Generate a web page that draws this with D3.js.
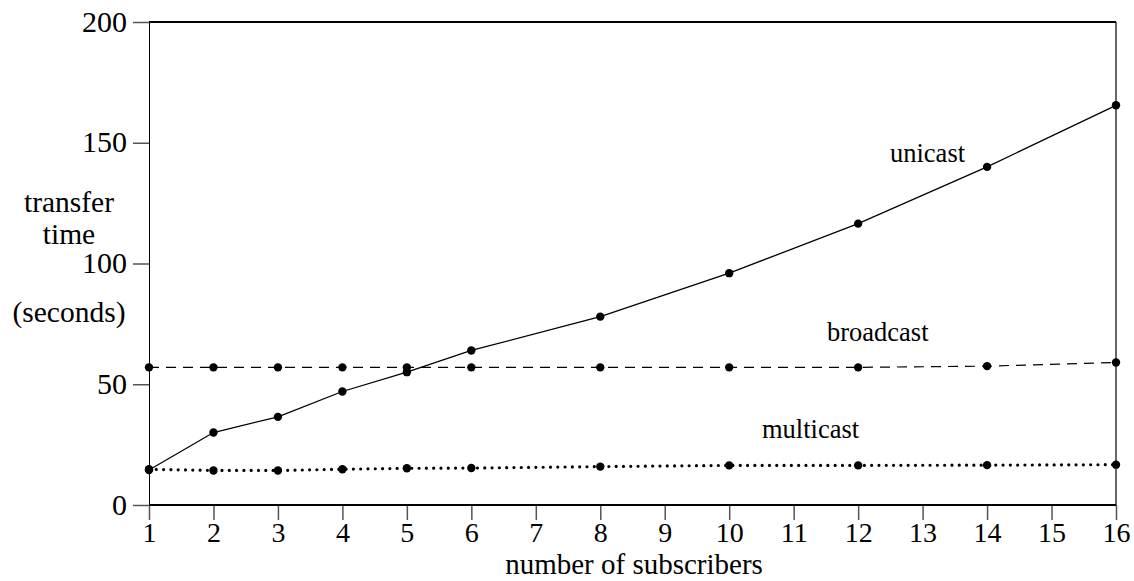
<!DOCTYPE html>
<html lang="en">
<head>
  <meta charset="UTF-8">
  <script src="https://cdn.jsdelivr.net/npm/d3@7"></script>
  <title>transfer time</title>
  <style>
    body { margin: 0; background: #fff; }
    text { font-family: "Liberation Serif", "Times New Roman", serif; fill: #000; }
  </style>
</head>
<body>
  <svg class="svg" width="1134" height="581"></svg>
  <script>
    // data
    const subscribers = [1, 2, 3, 4, 5, 6, 8, 10, 12, 14, 16]
    const unicast   = [14.5, 30, 36.5, 47, 55, 64, 78, 96, 116.5, 140, 165.5]
    const broadcast = [57, 57, 57, 57, 57, 57, 57, 57, 57, 57.5, 59]
    const multicast = [14.8, 14.3, 14.3, 14.8, 15.2, 15.3, 15.9, 16.4, 16.4, 16.5, 16.7]
    const xTicks = d3.range(1, 17)
    const yTicks = [0, 50, 100, 150, 200]

    let svg = d3.select(".svg")
    let margin = ({top: 22, right: 18, bottom: 76, left: 149})
    let width = +svg.attr("width")
    let height = +svg.attr("height")

    let x = d3.scaleLinear()
      .domain([1, 16])
      .range([margin.left, width - margin.right])

    let y = d3.scaleLinear()
      .domain([0, 200])
      .range([height - margin.bottom, margin.top])

    // y axis
    let yAxis = g => g
      .attr("transform", `translate(${margin.left},0)`)
      .call(d3.axisLeft(y).tickValues(yTicks).tickSize(16).tickPadding(6))
      .call(g => g.select(".domain").attr("stroke", "#000"))
      .call(g => g.selectAll(".tick line").attr("stroke", "#555").attr("stroke-width", 1.5))
      .call(g => g.selectAll(".tick text").attr("font-size", 30).attr("dy", "0.3em"))

    let xAxis = g => g
      .attr("transform", `translate(0,${height - margin.bottom})`)
      .call(d3.axisBottom(x).tickValues(xTicks).tickSize(15).tickPadding(2))
      .call(g => g.select(".domain").remove())
      .call(g => g.selectAll(".tick line").attr("stroke", "#555").attr("stroke-width", 1.5))
      .call(g => g.selectAll(".tick text").attr("font-size", 28).attr("dy", "0.7em"))

    svg.append("g").call(yAxis)
    svg.append("g").call(xAxis)

    // frame: thick top and bottom, thin right
    svg.append("line")
      .attr("x1", x(1)).attr("x2", x(16))
      .attr("y1", y(200)).attr("y2", y(200))
      .attr("stroke", "#000").attr("stroke-width", 2.2)
    svg.append("line")
      .attr("x1", x(1)).attr("x2", x(16))
      .attr("y1", y(0)).attr("y2", y(0))
      .attr("stroke", "#000").attr("stroke-width", 2.2)
    svg.append("line")
      .attr("x1", x(16)).attr("x2", x(16))
      .attr("y1", y(200)).attr("y2", y(0))
      .attr("stroke", "#000").attr("stroke-width", 1.2)

    const series = [
      {name: "unicast", values: unicast, dash: null, width: 1.3},
      {name: "broadcast", values: broadcast, dash: "10,7", width: 1.2},
      {name: "multicast", values: multicast, dash: "0,7.3", width: 3.2}
    ]

    let line = d3.line()
      .x((d, i) => x(subscribers[i]))
      .y(d => y(d))

    series.forEach(s => {
      svg.append("path")
        .datum(s.values)
        .attr("fill", "none")
        .attr("stroke", "#000")
        .attr("stroke-width", s.width)
        .attr("stroke-linecap", s.dash && s.dash.startsWith("0") ? "round" : "butt")
        .attr("stroke-dasharray", s.dash)
        .attr("d", line)

      svg.append("g")
        .selectAll("circle")
        .data(s.values)
        .join("circle")
        .attr("cx", (d, i) => x(subscribers[i]))
        .attr("cy", d => y(d))
        .attr("r", 4.2)
        .attr("fill", "#000")
    })

    // series labels
    const labels = [
      {text: "unicast", x: 890, y: 162},
      {text: "broadcast", x: 827, y: 341},
      {text: "multicast", x: 762, y: 438}
    ]
    svg.append("g")
      .selectAll("text")
      .data(labels)
      .join("text")
      .attr("x", d => d.x)
      .attr("y", d => d.y)
      .attr("font-size", 26.5)
      .text(d => d.text)

    // axis titles
    svg.append("text")
      .attr("x", 634)
      .attr("y", 574)
      .attr("text-anchor", "middle")
      .attr("font-size", 29)
      .text("number of subscribers")

    const yTitle = [
      {text: "transfer", y: 212},
      {text: "time", y: 244},
      {text: "(seconds)", y: 322}
    ]
    svg.append("g")
      .selectAll("text")
      .data(yTitle)
      .join("text")
      .attr("x", 69)
      .attr("y", d => d.y)
      .attr("text-anchor", "middle")
      .attr("font-size", 29.5)
      .text(d => d.text)
  </script>
</body>
</html>
